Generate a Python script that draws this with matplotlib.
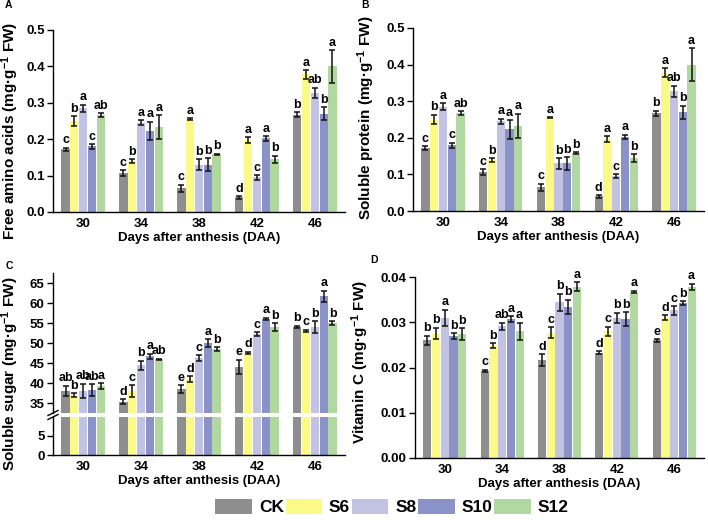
import matplotlib
matplotlib.use("Agg")
import matplotlib.pyplot as plt
from matplotlib.patches import Patch
import numpy as np

plt.rcParams['font.family'] = ['Liberation Sans', 'DejaVu Sans']
plt.rcParams['font.weight'] = 'bold'
plt.rcParams['mathtext.fontset'] = 'custom'
plt.rcParams['mathtext.rm'] = 'Liberation Sans:bold'
plt.rcParams['mathtext.bf'] = 'Liberation Sans:bold'
plt.rcParams['mathtext.default'] = 'bf'

days = ['30', '34', '38', '42', '46']
treatments = ['CK', 'S6', 'S8', 'S10', 'S12']
colors = ['#8e8e8e', '#fbfa86', '#c2c3e3', '#8a92c8', '#b1d8a0']

# Free amino acids (A) and soluble protein (B): rows = treatments, cols = days
aa_vals = [[0.172, 0.107, 0.065, 0.040, 0.267],
           [0.250, 0.140, 0.255, 0.197, 0.378],
           [0.285, 0.245, 0.130, 0.095, 0.327],
           [0.180, 0.223, 0.130, 0.202, 0.270],
           [0.267, 0.233, 0.158, 0.145, 0.400]]
aa_err = [[0.005, 0.008, 0.010, 0.004, 0.007],
          [0.013, 0.005, 0.002, 0.008, 0.012],
          [0.010, 0.007, 0.015, 0.006, 0.015],
          [0.007, 0.025, 0.017, 0.006, 0.018],
          [0.005, 0.033, 0.002, 0.010, 0.045]]
aa_let = [['c', 'c', 'c', 'd', 'b'],
          ['b', 'b', 'a', 'a', 'a'],
          ['a', 'a', 'b', 'c', 'ab'],
          ['c', 'a', 'b', 'a', 'b'],
          ['ab', 'a', 'b', 'b', 'a']]

sp_vals = [[0.172, 0.107, 0.065, 0.040, 0.267],
           [0.250, 0.140, 0.255, 0.197, 0.378],
           [0.285, 0.245, 0.130, 0.095, 0.327],
           [0.180, 0.223, 0.130, 0.202, 0.270],
           [0.267, 0.233, 0.158, 0.145, 0.400]]
sp_err = [[0.005, 0.008, 0.010, 0.004, 0.007],
          [0.013, 0.005, 0.002, 0.008, 0.012],
          [0.010, 0.007, 0.015, 0.006, 0.015],
          [0.007, 0.025, 0.017, 0.006, 0.018],
          [0.005, 0.033, 0.002, 0.010, 0.045]]
sp_let = [['c', 'c', 'c', 'd', 'b'],
          ['b', 'b', 'a', 'a', 'a'],
          ['a', 'a', 'b', 'c', 'ab'],
          ['c', 'a', 'b', 'a', 'b'],
          ['ab', 'a', 'b', 'b', 'a']]

# Soluble sugar (C)
sg_vals = [[38.0, 35.3, 38.5, 44.0, 54.0],
           [37.0, 38.0, 41.0, 47.5, 53.0],
           [38.0, 44.4, 46.3, 52.2, 54.0],
           [38.2, 46.7, 50.0, 56.0, 61.7],
           [39.3, 45.9, 48.5, 54.0, 55.0]]
sg_err = [[1.3, 0.6, 0.9, 1.8, 0.3],
          [0.5, 1.5, 0.7, 0.3, 0.3],
          [1.8, 1.2, 0.7, 0.5, 1.5],
          [1.5, 0.6, 1.0, 0.3, 1.4],
          [0.7, 0.2, 0.4, 0.9, 0.4]]
sg_let = [['ab', 'd', 'e', 'e', 'b'],
          ['b', 'c', 'd', 'd', 'c'],
          ['ab', 'b', 'c', 'c', 'b'],
          ['ab', 'a', 'a', 'a', 'a'],
          ['a', 'ab', 'b', 'b', 'b']]

# Vitamin C (D)
vc_vals = [[0.0260, 0.0192, 0.0217, 0.0233, 0.0260],
           [0.0275, 0.0248, 0.0277, 0.0280, 0.0310],
           [0.0310, 0.0291, 0.0344, 0.0310, 0.0326],
           [0.0270, 0.0307, 0.0334, 0.0307, 0.0342],
           [0.0274, 0.0280, 0.0378, 0.0367, 0.0378]]
vc_err = [[0.0010, 0.0003, 0.0013, 0.0003, 0.0003],
          [0.0013, 0.0006, 0.0012, 0.0010, 0.0006],
          [0.0018, 0.0008, 0.0019, 0.0011, 0.0009],
          [0.0006, 0.0006, 0.0016, 0.0015, 0.0004],
          [0.0013, 0.0019, 0.0010, 0.0003, 0.0007]]
vc_let = [['b', 'c', 'd', 'd', 'e'],
          ['b', 'b', 'c', 'c', 'd'],
          ['a', 'ab', 'b', 'b', 'c'],
          ['b', 'a', 'b', 'b', 'b'],
          ['b', 'a', 'a', 'a', 'a']]

W, H = 708, 520
fig = plt.figure(figsize=(W / 100, H / 100), dpi=100)

def px_axes(x0, x1, ytop, ybot):
    return fig.add_axes([x0 / W, 1 - ybot / H, (x1 - x0) / W, (ybot - ytop) / H])

step = 0.152
bw = 0.142
x = np.arange(len(days))
offsets = (np.arange(5) - 2) * step
TICK_FS = 9.5
LET_FS = 9
XLAB_FS = 9.5
YLAB_FS = 11

def style(ax):
    for s in ['top', 'right']:
        ax.spines[s].set_visible(False)
    ax.spines['left'].set_linewidth(1.0)
    ax.spines['bottom'].set_linewidth(1.0)
    ax.tick_params(axis='y', direction='out', length=4, width=1.0,
                   labelsize=TICK_FS, pad=2)
    ax.tick_params(axis='x', length=0, labelsize=TICK_FS, pad=4)
    for lab in ax.get_xticklabels() + ax.get_yticklabels():
        lab.set_fontweight('bold')
    ax.set_xlim(-0.52, 4.52)

def draw_bars(ax, vals, errs, lets=None):
    for i in range(5):
        ax.bar(x + offsets[i], vals[i], bw, color=colors[i], zorder=2)
        ax.errorbar(x + offsets[i], vals[i], yerr=errs[i], fmt='none',
                    ecolor='#111111', elinewidth=1.1, capsize=2.0,
                    capthick=1.1, zorder=3)
        if lets is not None:
            for j in range(5):
                ax.annotate(lets[i][j], (x[j] + offsets[i], vals[i][j] + errs[i][j]),
                            xytext=(0, 1), textcoords='offset points',
                            ha='center', va='bottom', fontsize=LET_FS,
                            fontweight='bold')

ylab_unit = ' (mg·g$^{-1}$ FW)'

# Panel A
axA = px_axes(53, 345, 30, 212)
draw_bars(axA, aa_vals, aa_err, aa_let)
axA.set_ylim(0, 0.5)
axA.set_yticks([0.0, 0.1, 0.2, 0.3, 0.4, 0.5])
axA.set_yticklabels(['0.0', '0.1', '0.2', '0.3', '0.4', '0.5'])
axA.set_xticks(x)
axA.set_xticklabels(days)
style(axA)
axA.set_xlabel('Days after anthesis (DAA)', fontsize=XLAB_FS, fontweight='bold', labelpad=2)
axA.set_ylabel('Free amino acids' + ylab_unit, fontsize=YLAB_FS, fontweight='bold')
axA.yaxis.set_label_coords(-0.11, 0.445)

# Panel B
axB = px_axes(413, 704, 28, 211)
draw_bars(axB, sp_vals, sp_err, sp_let)
axB.set_ylim(0, 0.5)
axB.set_yticks([0.0, 0.1, 0.2, 0.3, 0.4, 0.5])
axB.set_yticklabels(['0.0', '0.1', '0.2', '0.3', '0.4', '0.5'])
axB.set_xticks(x)
axB.set_xticklabels(days)
style(axB)
axB.set_xlabel('Days after anthesis (DAA)', fontsize=XLAB_FS, fontweight='bold', labelpad=2)
axB.set_ylabel('Soluble protein' + ylab_unit, fontsize=YLAB_FS, fontweight='bold')
axB.yaxis.set_label_coords(-0.124, 0.51)

# Panel C (broken axis)
axC1 = px_axes(53, 345, 273, 413)
axC2 = px_axes(53, 345, 417, 455)
draw_bars(axC1, sg_vals, sg_err, sg_let)
draw_bars(axC2, sg_vals, sg_err, None)
axC1.set_ylim(32.5, 67.5)
axC1.set_yticks([35, 40, 45, 50, 55, 60, 65])
axC2.set_ylim(0, 10)
axC2.set_yticks([0, 5])
for ax in (axC1, axC2):
    style(ax)
axC1.set_xticks([])
axC1.spines['bottom'].set_visible(False)
axC2.set_xticks(x)
axC2.set_xticklabels(days)
axC2.set_xlabel('Days after anthesis (DAA)', fontsize=XLAB_FS, fontweight='bold', labelpad=2)
for yy in (413, 417):
    fig.add_artist(plt.Line2D([(53 - 5) / W, (53 + 5) / W],
                              [1 - (yy + 2.5) / H, 1 - (yy - 2.5) / H],
                              color='black', lw=1.0))
fig.text(10 / W, 1 - 374 / H, 'Soluble sugar' + ylab_unit, rotation=90,
         ha='center', va='center', fontsize=YLAB_FS, fontweight='bold')

# Panel D
axD = px_axes(415, 704, 277, 458)
draw_bars(axD, vc_vals, vc_err, vc_let)
axD.set_ylim(0, 0.04)
axD.set_yticks([0.0, 0.01, 0.02, 0.03, 0.04])
axD.set_yticklabels(['0.00', '0.01', '0.02', '0.03', '0.04'])
axD.set_xticks(x)
axD.set_xticklabels(days)
style(axD)
axD.set_xlabel('Days after anthesis (DAA)', fontsize=XLAB_FS, fontweight='bold', labelpad=2)
axD.set_ylabel('Vitamin C' + ylab_unit, fontsize=YLAB_FS, fontweight='bold')
axD.yaxis.set_label_coords(-0.152, 0.53)

# Panel letters
fig.text(5 / W, 1 - 5 / H, 'A', fontsize=7.5, fontweight='bold', va='center')
fig.text(361 / W, 1 - 5 / H, 'B', fontsize=7.5, fontweight='bold', va='center')
fig.text(6 / W, 1 - 266 / H, 'C', fontsize=7.5, fontweight='bold', va='center')
fig.text(370 / W, 1 - 260 / H, 'D', fontsize=7.5, fontweight='bold', va='center')

# Legend
handles = [Patch(facecolor=c, edgecolor='none') for c in colors]
fig.legend(handles, treatments, loc='center', bbox_to_anchor=(392 / W, 1 - 507 / H),
           ncol=5, frameon=False, handlelength=2.1, handleheight=1.0,
           handletextpad=0.4, columnspacing=0.1, borderpad=0,
           prop={'family': ['Liberation Sans'], 'weight': 'bold', 'size': 12.5})

fig.savefig('out.png', dpi=100)
